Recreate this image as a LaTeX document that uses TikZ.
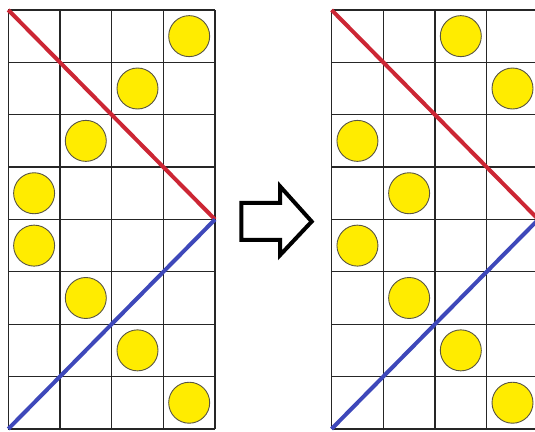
\documentclass[tikz,border=0pt]{standalone}

\definecolor{coinyellow}{RGB}{255,236,0}
\definecolor{diagred}{RGB}{204,38,52}
\definecolor{diagblue}{RGB}{62,72,186}

\newcommand{\dims}{
\def\nc{4}      % columns per board
\def\nr{8}      % rows per board
\def\xo{6.255}  % shift of the second board
\def\rc{10.25pt}% coin radius
}

\begin{document}
\begin{tikzpicture}[x=25.85pt,y=26.19pt,
  gridline/.style={line width=0.65pt,black!85},
  coin/.style={fill=coinyellow,draw=black!75!yellow,line width=0.45pt},
  diag/.style={line width=2pt}]
  \dims
  \useasboundingbox (-0.16,-0.04) rectangle (10.19,8.19);
  % left board
  \foreach \i in {0,...,\nc} \draw[gridline] (\i,0) -- (\i,\nr);
  \foreach \j in {0,...,\nr} \draw[gridline] (0,\j) -- (\nc,\j);
  \foreach \c/\r in {4/1,3/2,2/3,1/4,1/5,2/6,3/7,4/8}
    \draw[coin] ({\c-0.5},{8.5-\r}) circle [radius=\rc];
  \draw[diag,diagred] (0,\nr) -- (\nc,4);
  \draw[diag,diagblue] (0,0) -- (\nc,4);
  % right board
  \begin{scope}[xshift=\xo*25.85pt]
    \foreach \i in {0,...,\nc} \draw[gridline] (\i,0) -- (\i,\nr);
    \foreach \j in {0,...,\nr} \draw[gridline] (0,\j) -- (\nc,\j);
    \foreach \c/\r in {3/1,4/2,1/3,2/4,1/5,2/6,3/7,4/8}
      \draw[coin] ({\c-0.5},{8.5-\r}) circle [radius=\rc];
    \draw[diag,diagred] (0,\nr) -- (\nc,4);
    \draw[diag,diagblue] (0,0) -- (\nc,4);
  \end{scope}
  % arrow
  \draw[line width=2pt] (4.51,3.61) -- (5.26,3.61) -- (5.26,3.32) -- (5.87,3.96)
    -- (5.26,4.63) -- (5.26,4.315) -- (4.51,4.315) -- cycle;
\end{tikzpicture}
\end{document}
